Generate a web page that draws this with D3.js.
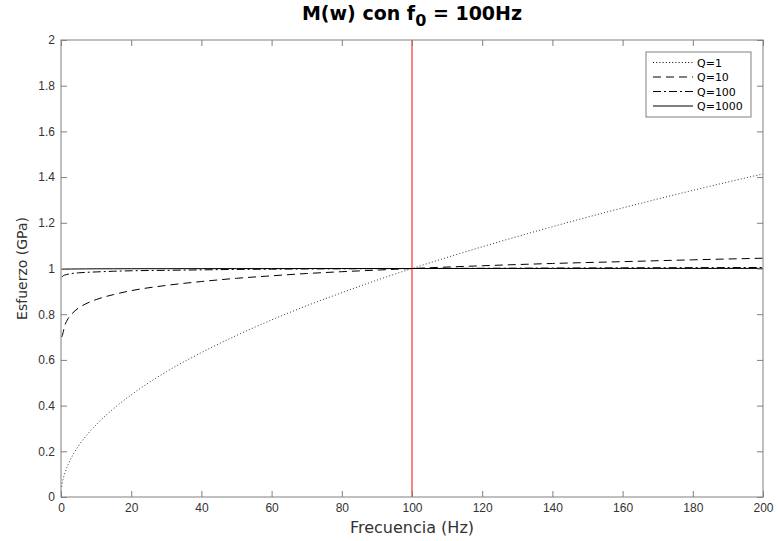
<!DOCTYPE html>
<html>
<head>
<meta charset="utf-8">
<script src="https://cdn.jsdelivr.net/npm/d3@7"></script>
<style>
  body { margin: 0; background: #fff; }
  svg { font-family: "DejaVu Sans", sans-serif; }
</style>
</head>
<body>
<svg id="chart" width="778" height="541"></svg>
<script>
var freqs = [0.2, 0.5, 1, 2, 3, 5, 7, 10, 15, 20, 30, 40, 50, 60, 70, 80, 90, 100, 120, 140, 160, 180, 200];

// stress values (GPa) for each Q
var q1    = [0.045, 0.071, 0.100, 0.141, 0.173, 0.224, 0.265, 0.316, 0.387, 0.447, 0.548, 0.632, 0.707, 0.775, 0.837, 0.894, 0.949, 1.000, 1.095, 1.183, 1.265, 1.342, 1.414];
var q10   = [0.700, 0.714, 0.746, 0.780, 0.800, 0.827, 0.845, 0.864, 0.886, 0.903, 0.926, 0.943, 0.957, 0.968, 0.978, 0.986, 0.993, 1.000, 1.012, 1.022, 1.030, 1.038, 1.045];
var q100  = [0.962, 0.967, 0.971, 0.975, 0.978, 0.981, 0.983, 0.985, 0.988, 0.990, 0.992, 0.994, 0.996, 0.997, 0.998, 0.9986, 0.9993, 1.000, 1.001, 1.002, 1.003, 1.0037, 1.0044];
var q1000 = [0.9962, 0.9966, 0.9971, 0.9975, 0.9978, 0.9981, 0.9983, 0.9985, 0.9988, 0.999, 0.9992, 0.9994, 0.9996, 0.9997, 0.9998, 0.9999, 0.9999, 1.000, 1.0001, 1.0002, 1.0003, 1.0004, 1.0004];

var seriesNames = ["Q=1", "Q=10", "Q=100", "Q=1000"];
var xTicks = [0, 20, 40, 60, 80, 100, 120, 140, 160, 180, 200];
var yTicks = [0, 0.2, 0.4, 0.6, 0.8, 1, 1.2, 1.4, 1.6, 1.8, 2];
var f0 = 100;

var margin = {left: 61, right: 15, top: 40, bottom: 44};
var W = 778, H = 541;
var svg = d3.select("#chart");

var x = d3.scaleLinear().domain([0, 200]).range([margin.left, W - margin.right]);
var y = d3.scaleLinear().domain([0, 2]).range([H - margin.bottom, margin.top]);

var axisColor = "#808080";
var series = [q1, q10, q100, q1000];
var dashes = ["1,2.2", "8,5", "8,3,2,3", null];

// red line at f0
svg.append("line")
  .attr("x1", x(f0)).attr("x2", x(f0))
  .attr("y1", y(0)).attr("y2", y(2))
  .attr("stroke", "#ff3030").attr("stroke-width", 1.2);

var line = d3.line()
  .x(function(d){ return x(d[0]); })
  .y(function(d){ return y(d[1]); })
  .curve(d3.curveMonotoneX);

series.forEach(function(s, i){
  svg.append("path")
    .datum(freqs.map(function(f, j){ return [f, s[j]]; }))
    .attr("fill", "none")
    .attr("stroke", i == 0 ? "#333" : "#000")
    .attr("stroke-width", 1)
    .attr("stroke-dasharray", dashes[i])
    .attr("d", line);
});

// axes, ticks inside (all four sides)
function styleAxis(g){
  g.selectAll(".domain").remove();
  g.selectAll(".tick line").attr("stroke", axisColor);
  g.selectAll(".tick text").attr("fill", "#333").style("font-size", "12px");
}
svg.append("g")
  .attr("transform", "translate(0," + y(0) + ")")
  .call(d3.axisBottom(x).tickValues(xTicks).tickSizeInner(-6).tickSizeOuter(0).tickPadding(6).tickFormat(d3.format("d")))
  .call(styleAxis);
svg.append("g")
  .attr("transform", "translate(0," + y(2) + ")")
  .call(d3.axisTop(x).tickValues(xTicks).tickSizeInner(-6).tickSizeOuter(0).tickFormat(""))
  .call(styleAxis);
svg.append("g")
  .attr("transform", "translate(" + x(0) + ",0)")
  .call(d3.axisLeft(y).tickValues(yTicks).tickSizeInner(-6).tickSizeOuter(0).tickPadding(6).tickFormat(d3.format("~g")))
  .call(styleAxis);
svg.append("g")
  .attr("transform", "translate(" + x(200) + ",0)")
  .call(d3.axisRight(y).tickValues(yTicks).tickSizeInner(-6).tickSizeOuter(0).tickFormat(""))
  .call(styleAxis);

svg.append("rect")
  .attr("x", x(0)).attr("y", y(2))
  .attr("width", x(200) - x(0)).attr("height", y(0) - y(2))
  .attr("fill", "none").attr("stroke", axisColor).attr("stroke-width", 1);

// labels
svg.append("text")
  .attr("x", (x(0) + x(200)) / 2).attr("y", 533)
  .attr("text-anchor", "middle").attr("fill", "#333")
  .style("font-size", "16px").text("Frecuencia (Hz)");
svg.append("text")
  .attr("transform", "translate(27," + (y(0) + y(2)) / 2 + ") rotate(-90)")
  .attr("text-anchor", "middle").attr("fill", "#333")
  .style("font-size", "14px").text("Esfuerzo (GPa)");

var title = svg.append("text")
  .attr("x", (x(0) + x(200)) / 2).attr("y", 20)
  .attr("text-anchor", "middle").attr("fill", "#000")
  .style("font-size", "19px").style("font-weight", "bold");
title.append("tspan").text("M(w) con f");
title.append("tspan").attr("dy", 6).style("font-size", "16px").text("0");
title.append("tspan").attr("dy", -6).text(" = 100Hz");

// legend
var lg = svg.append("g").attr("transform", "translate(646,52)");
lg.append("rect").attr("width", 105).attr("height", 65)
  .attr("fill", "#fff").attr("stroke", axisColor);
seriesNames.forEach(function(name, i){
  var yy = 10.5 + i * 14.5;
  lg.append("line").attr("x1", 7).attr("x2", 47).attr("y1", yy).attr("y2", yy)
    .attr("stroke", "#000").attr("stroke-width", 1).attr("stroke-dasharray", dashes[i]);
  lg.append("text").attr("x", 51).attr("y", yy + 4)
    .attr("fill", "#000").style("font-size", "11px").text(name);
});
</script>
</body>
</html>
